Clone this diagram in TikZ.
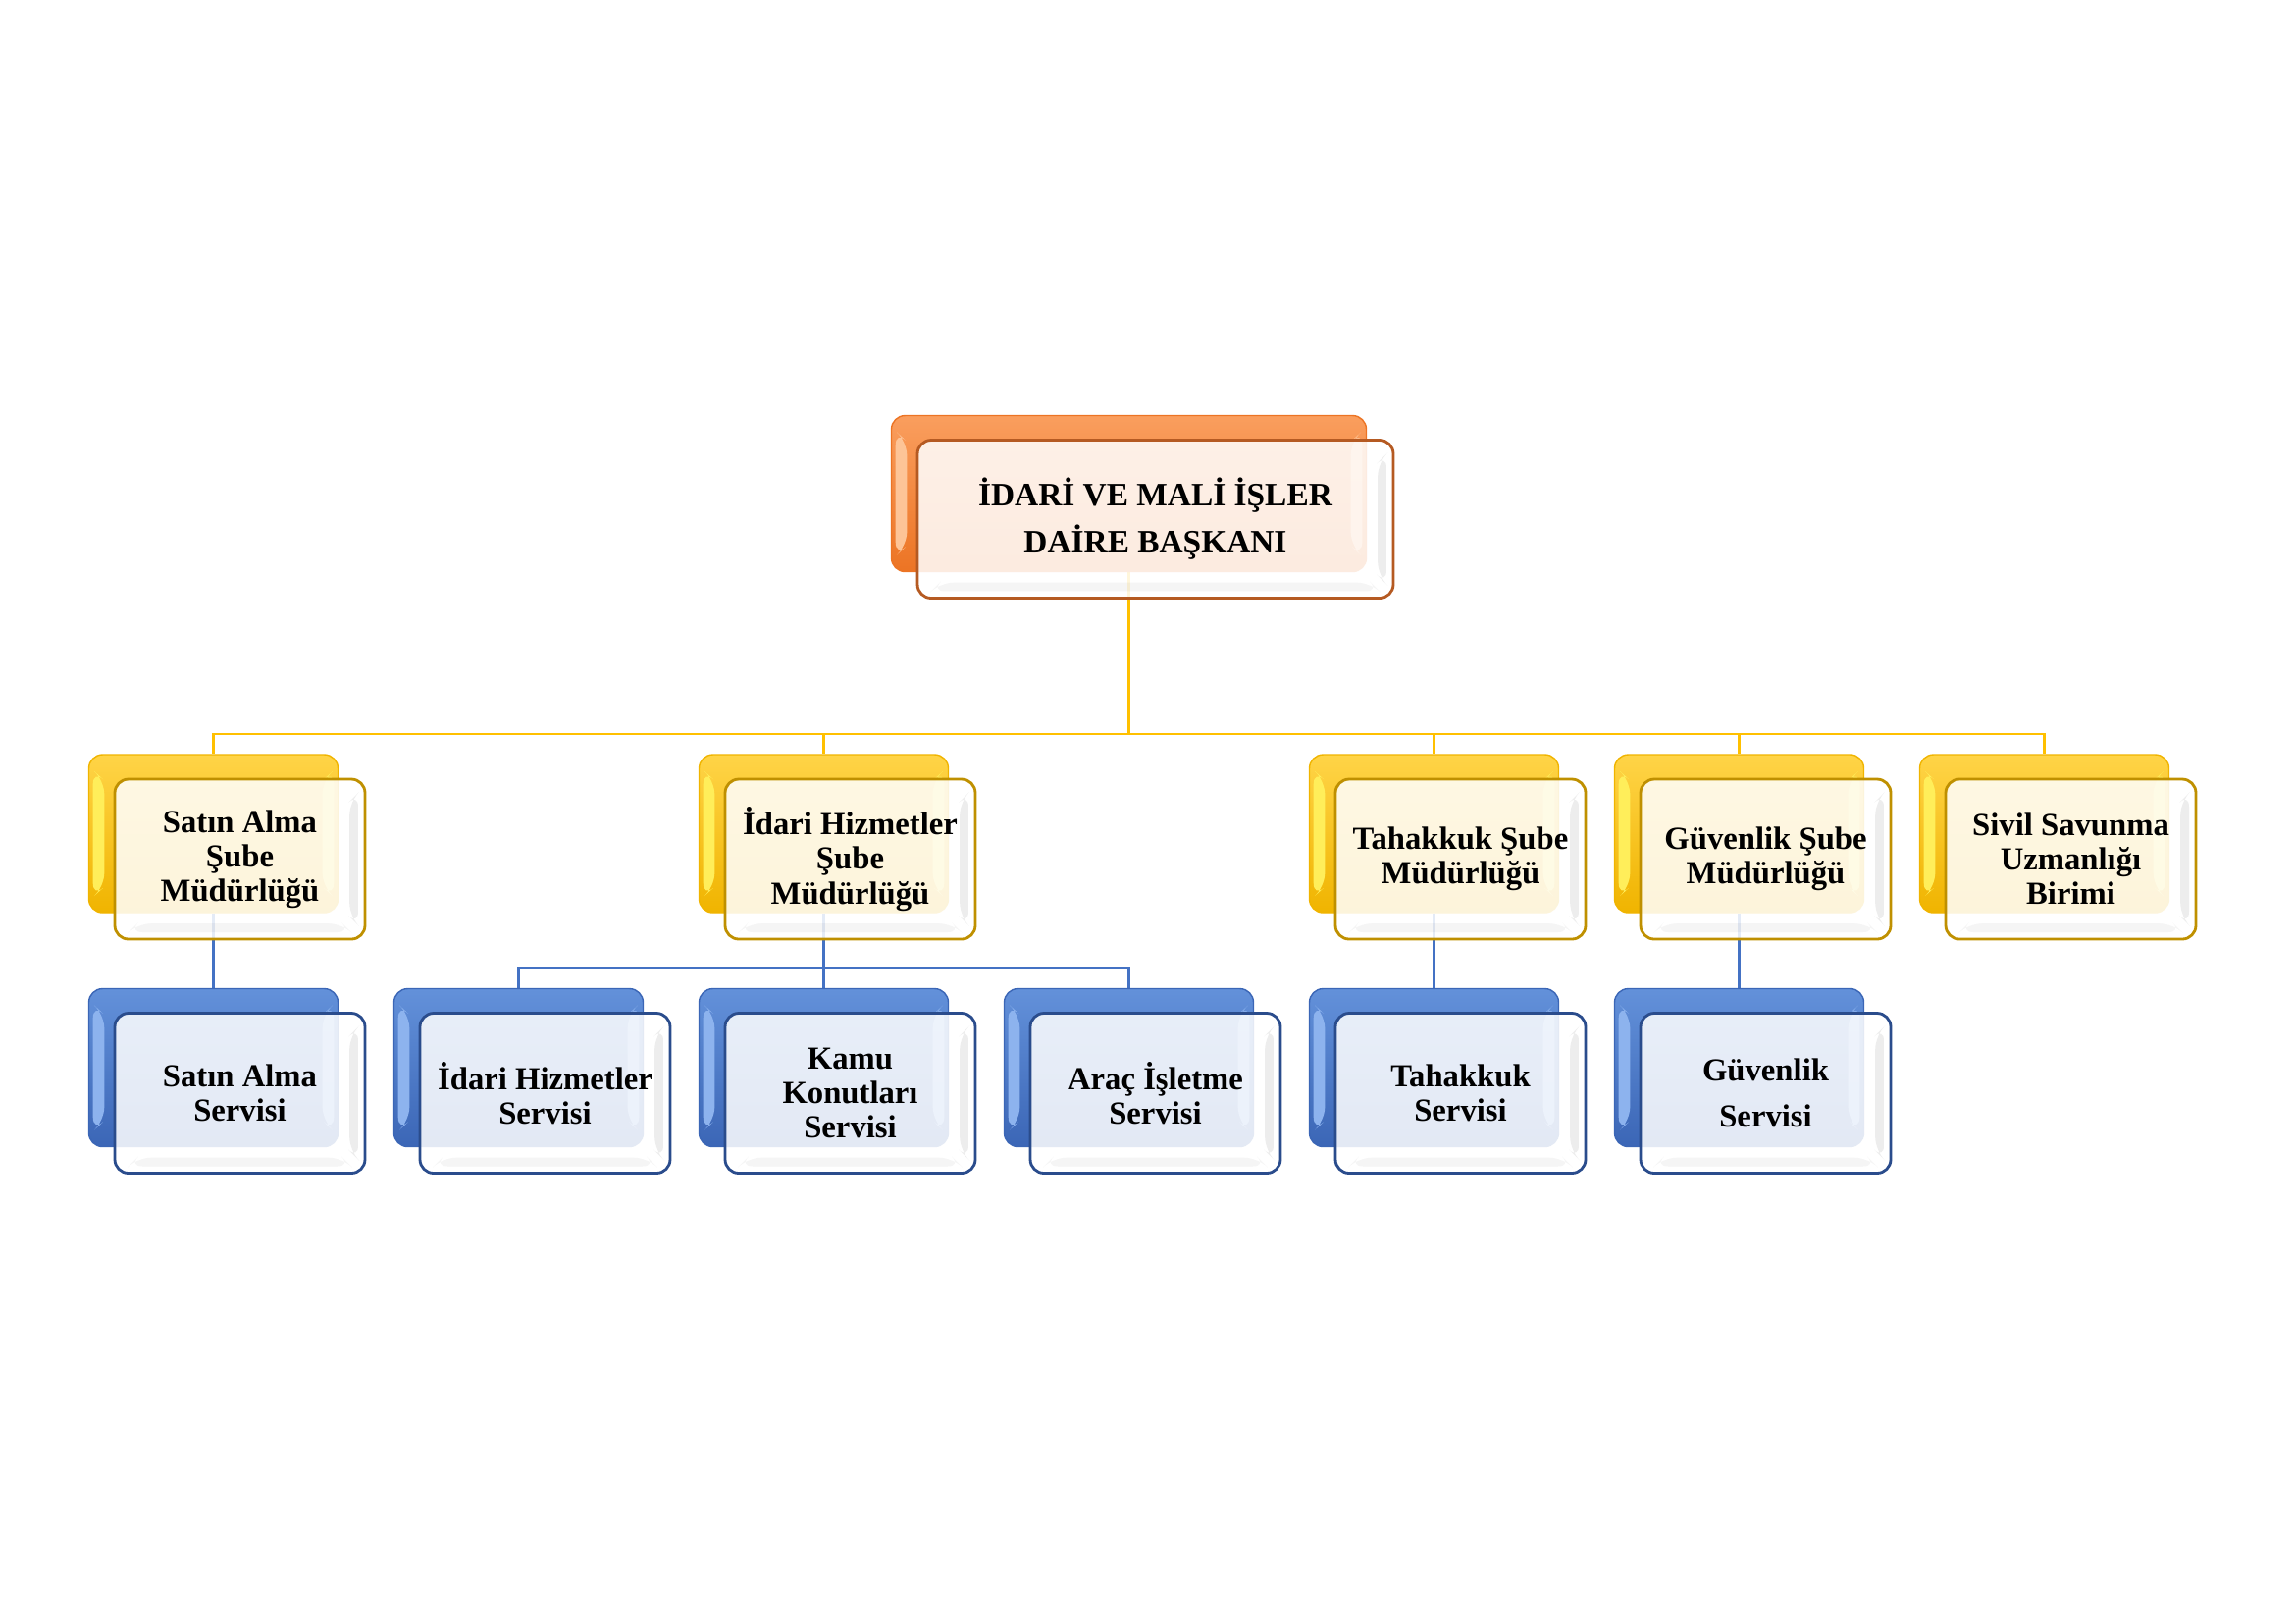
\documentclass[tikz,border=0pt]{standalone}
\usepackage{fontspec}
\setmainfont{Liberation Serif}
\usetikzlibrary{calc}
\pgfdeclarelayer{bg}
\pgfsetlayers{bg,main}

\definecolor{orgL}{HTML}{FA9E5E}
\definecolor{orgD}{HTML}{EC7424}
\definecolor{orgH}{HTML}{FDC497}
\definecolor{orgE}{HTML}{B55A22}
\definecolor{yelL}{HTML}{FFD447}
\definecolor{yelD}{HTML}{F0B400}
\definecolor{yelH}{HTML}{FFEE5A}
\definecolor{yelE}{HTML}{BF9000}
\definecolor{bluL}{HTML}{6391DA}
\definecolor{bluD}{HTML}{3B66B6}
\definecolor{bluH}{HTML}{8DB3EE}
\definecolor{bluE}{HTML}{2A4C8C}
\definecolor{lineY}{HTML}{FFC000}
\definecolor{lineB}{HTML}{4472C4}

\tikzset{
  backbox/.style={rectangle, rounded corners=1.4mm, minimum width=25.4mm,
    minimum height=16.1mm, inner sep=0pt, top color=#1L, bottom color=#1D,
    draw=#1D, line width=0.4pt,
    path picture={
      \fill[#1H] ([shift={(1.2pt,-4.5pt)}]path picture bounding box.north west)
        -- ([shift={(4.5pt,-7.5pt)}]path picture bounding box.north west)
        -- ([shift={(4.5pt,7.5pt)}]path picture bounding box.south west)
        -- ([shift={(1.2pt,4.5pt)}]path picture bounding box.south west) -- cycle;
      \fill[#1H, opacity=0.8] ([shift={(-1.2pt,-4.5pt)}]path picture bounding box.north east)
        -- ([shift={(-4.5pt,-7.5pt)}]path picture bounding box.north east)
        -- ([shift={(-4.5pt,7.5pt)}]path picture bounding box.south east)
        -- ([shift={(-1.2pt,4.5pt)}]path picture bounding box.south east) -- cycle;
    }},
  frontbox/.style={rectangle, rounded corners=1.4mm, minimum width=25.5mm,
    minimum height=16.3mm, inner sep=1pt, fill=white, fill opacity=0.86,
    text opacity=1, draw=#1E, draw opacity=1, line width=0.8pt, align=center,
    font=\bfseries\fontsize{9.3}{10}\selectfont,
    path picture={
      \fill[black, opacity=0.07] ([shift={(-2pt,-4pt)}]path picture bounding box.north east)
        -- ([shift={(-4.5pt,-6.5pt)}]path picture bounding box.north east)
        -- ([shift={(-4.5pt,6.5pt)}]path picture bounding box.south east)
        -- ([shift={(-2pt,4pt)}]path picture bounding box.south east) -- cycle;
      \fill[black, opacity=0.04] ([shift={(4pt,2pt)}]path picture bounding box.south west)
        -- ([shift={(6.5pt,4.5pt)}]path picture bounding box.south west)
        -- ([shift={(-6.5pt,4.5pt)}]path picture bounding box.south east)
        -- ([shift={(-4pt,2pt)}]path picture bounding box.south east) -- cycle;
    }},
  ylink/.style={draw=lineY, line width=0.8pt},
  blink/.style={draw=lineB, line width=0.8pt}
}

\newcommand\orgunit[5]{%
  \node[backbox=#4] (#1b) at (#2,#3) {};
  \node[frontbox=#4] (#1f) at ($(#1b.center)+(27,26)$) {#5};}

\begin{document}
\begin{tikzpicture}[x=0.1mm, y=-0.1mm]
\useasboundingbox (0,0) rectangle (2339,1654);

% top
\node[backbox=org, minimum width=48.4mm, minimum height=15.9mm] (tb) at (1150.5,503) {};
\node[frontbox=org, minimum width=48.5mm, minimum height=16.1mm,
      font=\bfseries\fontsize{9.5}{13.6}\selectfont] (tf) at ($(tb.center)+(27,26)$)
  {İDARİ VE MALİ İŞLER\\DAİRE BAŞKANI};

% level 1
\orgunit{sa}{217.5}{849.5}{yel}{Satın Alma\\Şube\\Müdürlüğü}
\orgunit{ih}{839.5}{849.5}{yel}{İdari Hizmetler\\Şube\\Müdürlüğü}
\orgunit{tk}{1461.5}{849.5}{yel}{Tahakkuk Şube\\Müdürlüğü}
\orgunit{gv}{1772.5}{849.5}{yel}{Güvenlik Şube\\Müdürlüğü}
\orgunit{ss}{2083.5}{849.5}{yel}{Sivil Savunma\\Uzmanlığı\\Birimi}

% level 2
\orgunit{sas}{217.5}{1088}{blu}{Satın Alma\\Servisi}
\orgunit{ihs}{528.5}{1088}{blu}{İdari Hizmetler\\Servisi}
\orgunit{kk}{839.5}{1088}{blu}{Kamu\\Konutları\\Servisi}
\orgunit{ai}{1150.5}{1088}{blu}{Araç İşletme\\Servisi}
\orgunit{tks}{1461.5}{1088}{blu}{Tahakkuk\\Servisi}
\orgunit{gvs}{1772.5}{1088}{blu}{Güvenlik\\[3.5pt]Servisi}

\coordinate (bus) at (0,748);
\coordinate (bbus) at (0,986);

\begin{pgfonlayer}{bg}
  \foreach \c in {sab,ihb,tkb,gvb,ssb}
    \draw[ylink] (tb.south) -- (tb.south |- bus) -| (\c.north);
  \draw[blink] (sab.south) -- (sasb.north);
  \foreach \c in {ihsb,kkb,aib}
    \draw[blink] (ihb.south) -- (ihb.south |- bbus) -| (\c.north);
  \draw[blink] (tkb.south) -- (tksb.north);
  \draw[blink] (gvb.south) -- (gvsb.north);
\end{pgfonlayer}
\end{tikzpicture}
\end{document}
